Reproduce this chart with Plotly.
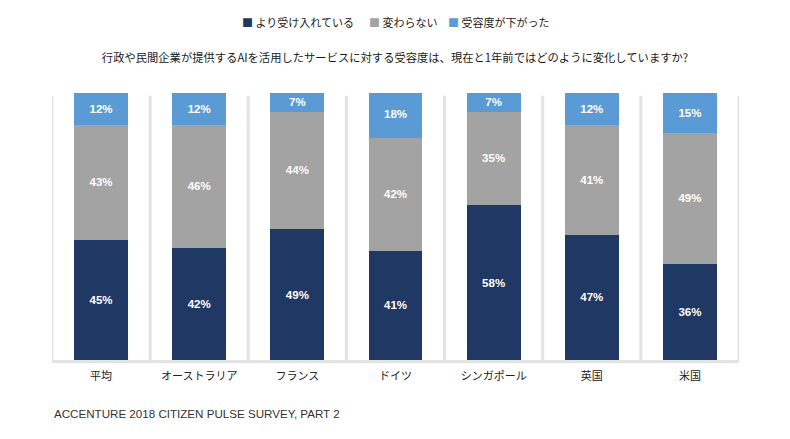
import plotly.graph_objects as go

categories = ["平均", "オーストラリア", "フランス", "ドイツ", "シンガポール", "英国", "米国"]
more_accepting = [45, 42, 49, 41, 58, 47, 36]
no_change = [43, 46, 44, 42, 35, 41, 49]
less_accepting = [12, 12, 7, 18, 7, 12, 15]

series_names = ["より受け入れている", "変わらない", "受容度が下がった"]
colors = ["#1f3864", "#a3a3a3", "#5a9bd5"]
title_text = "行政や民間企業が提供するAIを活用したサービスに対する受容度は、現在と1年前ではどのように変化していますか?"
source_text = "ACCENTURE 2018 CITIZEN PULSE SURVEY, PART 2"

JP = "Noto Sans CJK JP, sans-serif"

W, H = 790, 439
OFF = 8  # page body margin
ML, MR, MT, MB = 44, 59, 85, 87
PW, PH = W - ML - MR, H - MT - MB


def px(x):
    return (x - OFF - ML) / PW


def py(y):
    return (H - MB - (y - OFF)) / PH


fig = go.Figure()
for name, vals, col in zip(series_names, [more_accepting, no_change, less_accepting], colors):
    fig.add_trace(go.Bar(
        x=categories, y=vals, name=name,
        marker=dict(color=col, line=dict(width=0)),
        width=0.55,
        text=[f"{v}%" for v in vals],
        textposition="inside", insidetextanchor="middle",
        textfont=dict(color="white", size=11.5, family="Liberation Sans, Arial, sans-serif", weight="bold"),
        constraintext="none",
        showlegend=False,
    ))

shapes = []
for i in range(len(categories) + 1):
    shapes.append(dict(type="line", xref="x", yref="paper", x0=i - 0.5, x1=i - 0.5, y0=0, y1=0.99,
                       line=dict(color="#e3e3e3", width=3), layer="below"))
shapes.append(dict(type="line", xref="paper", yref="paper", x0=0, x1=1, y0=-0.006, y1=-0.006,
                   line=dict(color="#e3e3e3", width=3), layer="below"))

legend_x = [240, 367, 446]
annotations = []
for name, col, lx in zip(series_names, colors, legend_x):
    annotations.append(dict(
        text=f"<span style='color:{col}'>■</span> {name}",
        xref="paper", yref="paper", x=px(lx), xanchor="left", y=py(22), yanchor="middle",
        showarrow=False, font=dict(size=11, family=JP, color="#222")))
annotations.append(dict(text=source_text, xref="paper", yref="paper", x=px(52), xanchor="left",
                        y=py(413), yanchor="middle", showarrow=False,
                        font=dict(size=11.6, family="Liberation Sans, Arial, sans-serif", color="#333")))

fig.update_layout(
    width=W, height=H,
    barmode="stack",
    plot_bgcolor="white", paper_bgcolor="white",
    margin=dict(l=ML, r=MR, t=MT, b=MB),
    font=dict(family=JP, color="#222"),
    showlegend=False,
    title=dict(text=title_text, xref="container", yref="container", x=(395 - OFF) / W, xanchor="center",
               y=1 - (58 - OFF) / H, yanchor="middle", font=dict(size=11.3, family=JP, color="#1a1a1a")),
    xaxis=dict(range=[-0.5, len(categories) - 0.5], showgrid=False, showline=False, zeroline=False,
               ticks="", tickfont=dict(size=11, family=JP, color="#222"), ticklabelstandoff=8),
    yaxis=dict(range=[0, 100], visible=False, showgrid=False, zeroline=False),
    shapes=shapes,
    annotations=annotations,
)

fig.write_html("out.html")
